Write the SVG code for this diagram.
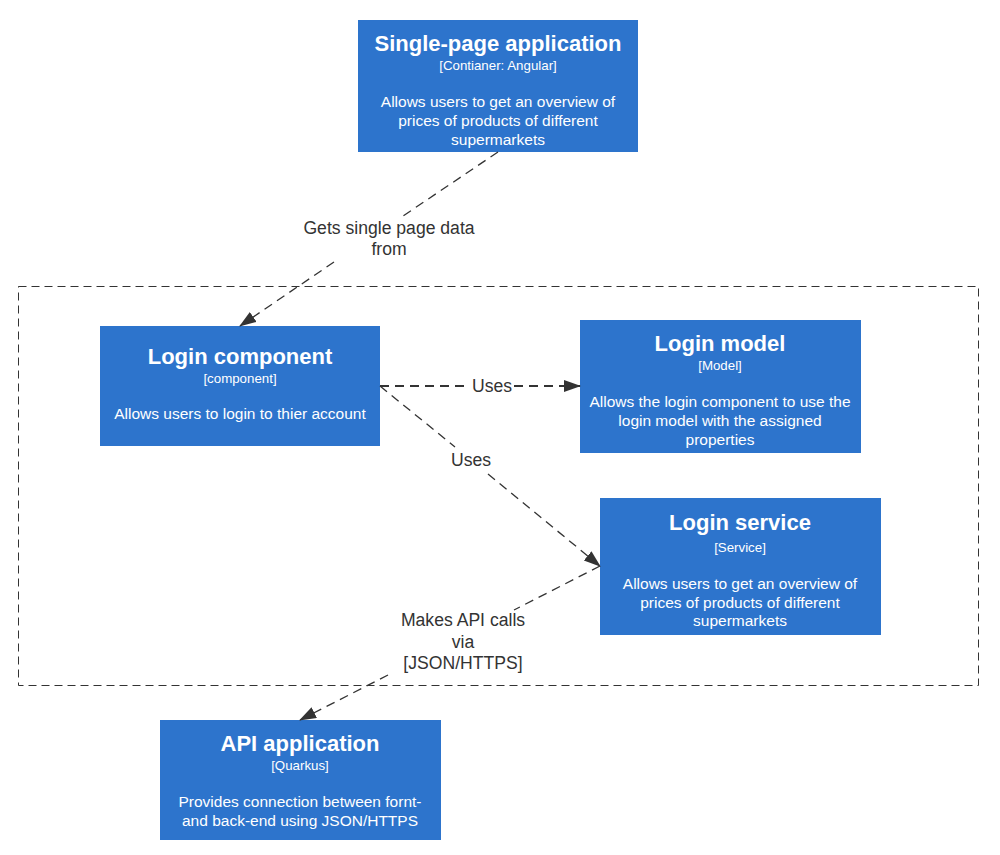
<svg xmlns="http://www.w3.org/2000/svg" width="1000" height="855" viewBox="0 0 1000 855">
<style>
.box{fill:#2d74cc}
.t{font-family:"Liberation Sans",Arial,sans-serif;fill:#fff;text-anchor:middle}
.title{font-size:22px;font-weight:bold}
.sub{font-size:13.3px}
.desc{font-size:15.5px}
.lbl{font-family:"Liberation Sans",Arial,sans-serif;font-size:17.6px;fill:#333;text-anchor:middle}
.edge{fill:none;stroke:#333;stroke-width:1.3;stroke-dasharray:9 6}
.bound{fill:none;stroke:#333;stroke-width:1;stroke-dasharray:8 5}
</style>
<defs>
<marker id="arr" markerUnits="userSpaceOnUse" markerWidth="18" markerHeight="14" refX="16" refY="6" orient="auto">
<path d="M0,0 L17,6 L0,12 Z" fill="#333"/>
</marker>
</defs>
<rect width="1000" height="855" fill="#fff"/>
<rect id="boundary" class="bound" x="18.5" y="286.5" width="960" height="399"/>
<g id="spa">
<rect class="box" x="358" y="20" width="280" height="132"/>
<text class="t title" x="498" y="51">Single-page application</text>
<text class="t sub" x="498" y="70">[Contianer: Angular]</text>
<text class="t desc" x="498" y="107">Allows users to get an overview of</text>
<text class="t desc" x="498" y="126">prices of products of different</text>
<text class="t desc" x="498" y="145">supermarkets</text>
</g>
<g id="login-component">
<rect class="box" x="100" y="326" width="280" height="120"/>
<text class="t title" x="240" y="364">Login component</text>
<text class="t sub" x="240" y="383">[component]</text>
<text class="t desc" x="240" y="419">Allows users to login to thier account</text>
</g>
<g id="login-model">
<rect class="box" x="580" y="320" width="281" height="133"/>
<text class="t title" x="720" y="351">Login model</text>
<text class="t sub" x="720" y="370">[Model]</text>
<text class="t desc" x="720" y="407">Allows the login component to use the</text>
<text class="t desc" x="720" y="426">login model with the assigned</text>
<text class="t desc" x="720" y="445">properties</text>
</g>
<g id="login-service">
<rect class="box" x="600" y="498" width="281" height="137"/>
<text class="t title" x="740" y="530">Login service</text>
<text class="t sub" x="740" y="552">[Service]</text>
<text class="t desc" x="740" y="589">Allows users to get an overview of</text>
<text class="t desc" x="740" y="608">prices of products of different</text>
<text class="t desc" x="740" y="626">supermarkets</text>
</g>
<g id="api-application">
<rect class="box" x="160" y="720" width="281" height="120"/>
<text class="t title" x="300" y="751">API application</text>
<text class="t sub" x="300" y="770">[Quarkus]</text>
<text class="t desc" x="300" y="807">Provides connection between fornt-</text>
<text class="t desc" x="300" y="826">and back-end using JSON/HTTPS</text>
</g>
<g id="connectors">
<path class="edge" d="M498,152 L403,216"/>
<path class="edge" d="M334,262 L240,326" marker-end="url(#arr)"/>
<text class="lbl" x="389" y="234">Gets single page data</text>
<text class="lbl" x="389" y="255">from</text>
<path class="edge" style="stroke-width:2" d="M380,386 L470,386"/>
<path class="edge" style="stroke-width:2" d="M514,386 L580,386" marker-end="url(#arr)"/>
<text class="lbl" x="492" y="392">Uses</text>
<path class="edge" d="M380,386 L455,447"/>
<path class="edge" d="M488,474 L600,566" marker-end="url(#arr)"/>
<text class="lbl" x="471" y="466">Uses</text>
<path class="edge" d="M600,566 L514,610"/>
<path class="edge" d="M388,675 L300,720" marker-end="url(#arr)"/>
<text class="lbl" x="463" y="626">Makes API calls</text>
<text class="lbl" x="463" y="648">via</text>
<text class="lbl" x="463" y="669">[JSON/HTTPS]</text>
</g>
</svg>
